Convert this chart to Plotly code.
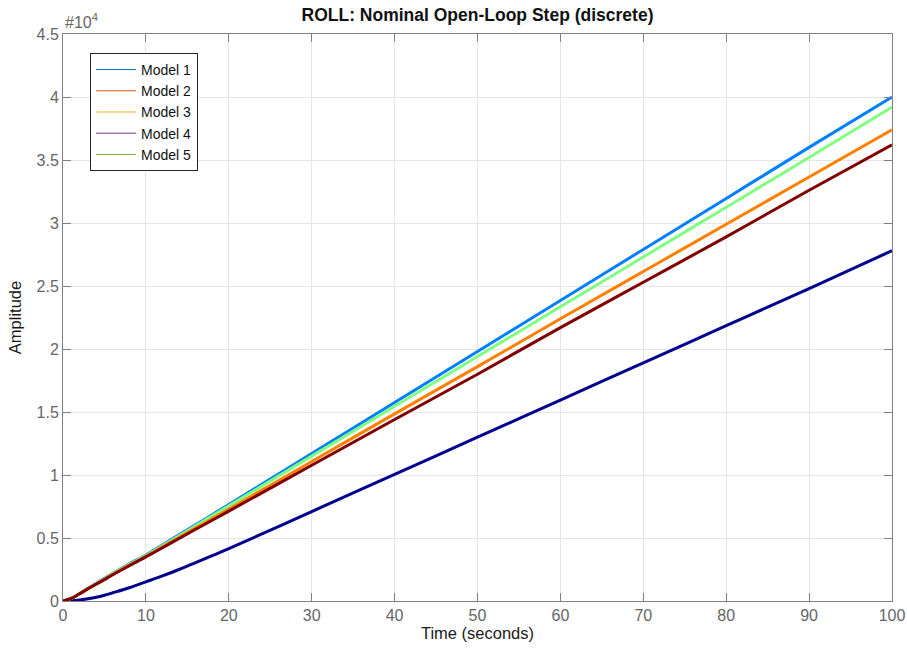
import plotly.graph_objects as go

t = [0, 1, 2, 3, 4, 5, 6, 8, 10, 12, 14, 16, 18, 20, 30, 40, 50, 60, 70, 80, 90, 100]

model1 = [0, 20, 80, 180, 300, 460, 650, 1050, 1520, 1990, 2500, 3050, 3600, 4150,
          7100, 10050, 13000, 15950, 18900, 21850, 24800, 27800]
model2 = [0, 200, 600, 1000, 1400, 1800, 2200, 2950, 3650, 4450, 5250, 6050, 6850, 7650,
          11700, 15750, 19800, 23850, 27900, 31950, 36000, 40000]
model3 = [0, 200, 590, 990, 1380, 1770, 2170, 2910, 3600, 4390, 5180, 5970, 6760, 7550,
          11500, 15450, 19400, 23350, 27300, 31250, 35200, 39200]
model4 = [0, 200, 580, 970, 1350, 1730, 2120, 2850, 3550, 4300, 5050, 5800, 6550, 7300,
          11070, 14850, 18600, 22400, 26150, 29900, 33650, 37400]
model5 = [0, 200, 570, 960, 1330, 1700, 2080, 2800, 3500, 4230, 4960, 5690, 6410, 7130,
          10770, 14400, 18000, 21700, 25300, 28900, 32600, 36200]

names = ["Model 1", "Model 2", "Model 3", "Model 4", "Model 5"]
series = [model1, model2, model3, model4, model5]
line_colors = ["#00008F", "#0080FF", "#80FF80", "#FF8000", "#800000"]
legend_colors = ["#0072BD", "#D95319", "#EDB120", "#7E2F8E", "#77AC30"]

ytick_vals = [0, 5000, 10000, 15000, 20000, 25000, 30000, 35000, 40000, 45000]
ytick_text = ["0", "0.5", "1", "1.5", "2", "2.5", "3", "3.5", "4", "4.5"]
xtick_vals = [0, 10, 20, 30, 40, 50, 60, 70, 80, 90, 100]

fig = go.Figure()
for name, ys, c in zip(names, series, line_colors):
    fig.add_trace(go.Scatter(x=t, y=ys, mode="lines", line=dict(color=c, width=3),
                             showlegend=False, name=name, line_shape="spline"))
for name, c in zip(names, legend_colors):
    fig.add_trace(go.Scatter(x=[None], y=[None], mode="lines", line=dict(color=c, width=1),
                             name=name, showlegend=True))

axis_common = dict(
    showgrid=True, gridcolor="#e5e5e5", gridwidth=1,
    showline=True, linecolor="#808080", linewidth=1, mirror="ticks",
    ticks="inside", ticklen=8, tickcolor="#808080", tickwidth=1,
    tickfont=dict(family="Liberation Sans, Arial", size=16, color="#666666"),
    zeroline=False, automargin=False,
)

fig.update_layout(
    width=907, height=650,
    margin=dict(l=63, r=15, t=34, b=49),
    paper_bgcolor="white", plot_bgcolor="white",
    font=dict(family="Liberation Sans, Arial", color="#262626"),
    title=dict(text="<b>ROLL: Nominal Open-Loop Step (discrete)</b>",
               x=0.5, xanchor="center", xref="paper", y=0.977, yanchor="middle",
               font=dict(size=17.5, color="#111111")),
    xaxis=dict(range=[0, 100], tickvals=xtick_vals,
               title=dict(text="Time (seconds)", font=dict(size=16.5, color="#1a1a1a"), standoff=2),
               **axis_common),
    yaxis=dict(range=[0, 45000], tickvals=ytick_vals, ticktext=ytick_text,
               title=dict(text="Amplitude", font=dict(size=16.5, color="#1a1a1a"), standoff=10),
               **axis_common),
    legend=dict(x=0.0326, y=0.9665, xanchor="left", yanchor="top",
                bgcolor="white", bordercolor="#262626", borderwidth=1,
                font=dict(size=14, color="#111111"), tracegroupgap=0, itemwidth=40),
    annotations=[dict(text="#10<sup>4</sup>", x=0, xref="paper", xanchor="left",
                      y=1.0, yref="paper", yanchor="bottom", yshift=1,
                      showarrow=False, font=dict(size=16, color="#666666"))],
)

fig.write_html("out.html")
